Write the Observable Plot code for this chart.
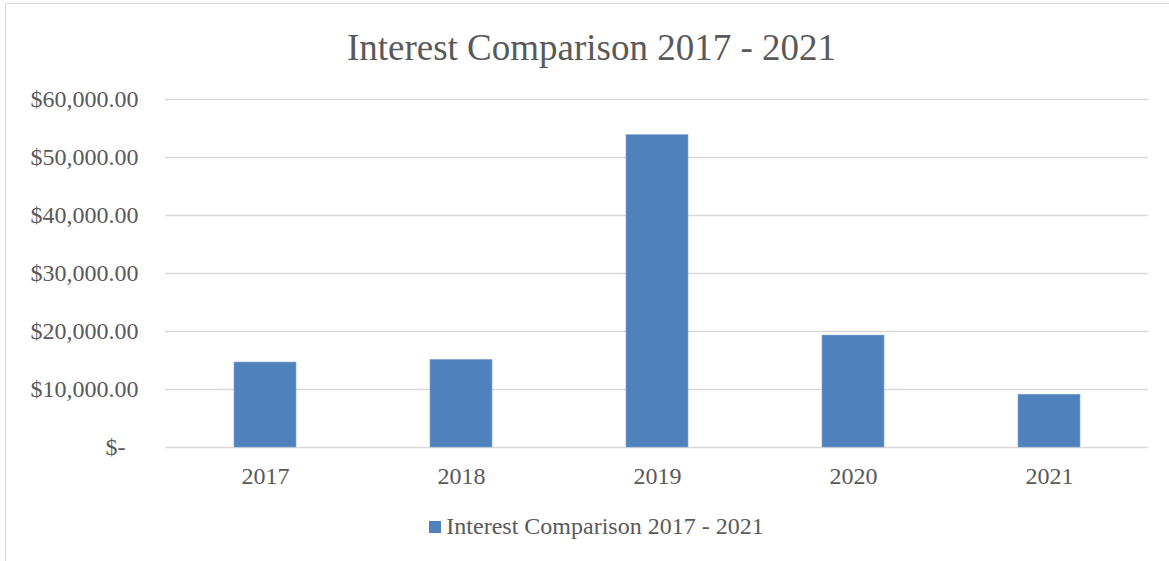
<!DOCTYPE html>
<html>
<head>
<meta charset="utf-8">
<script src="https://cdn.jsdelivr.net/npm/d3@7"></script>
<script src="https://cdn.jsdelivr.net/npm/@observablehq/plot@0.6"></script>
<style>
  html, body { margin: 0; padding: 0; background: #fff; }
  body { width: 1169px; height: 561px; position: relative; overflow: hidden; font-family: "Liberation Serif", "Times New Roman", serif; }
  #frame { position: absolute; left: 5px; top: 3px; width: 1175px; height: 580px; border: 1.5px solid #d9d9d9; box-sizing: border-box; }
  #title { position: absolute; left: 0; width: 1183px; top: 23px; text-align: center; font-size: 37px; color: #595959; line-height: 50px; }
  #chart { position: absolute; left: -2px; top: 80px; }
  #legend { position: absolute; left: 12px; width: 1169px; top: 510px; text-align: center; font-size: 24px; color: #595959; line-height: 32px; }
  #legend .sw { display: inline-block; width: 12px; height: 12px; background: #4f81bd; margin-right: 5px; vertical-align: 1px; }
</style>
</head>
<body>
<div id="frame"></div>
<div id="title">Interest Comparison 2017 - 2021</div>
<div id="chart"></div>
<div id="legend"><span class="sw"></span>Interest Comparison 2017 - 2021</div>
<script>
const years = ["2017", "2018", "2019", "2020", "2021"];
const interest = [14650, 15100, 53850, 19300, 9100];
const yTicks = [10000, 20000, 30000, 40000, 50000, 60000];

const data = years.map((y, i) => ({year: y, value: interest[i]}));
const fmt = d3.format(",.2f");

const chart = Plot.plot({
  width: 1171,
  height: 420,
  marginTop: 19,
  marginBottom: 53,
  marginLeft: 167,
  marginRight: 21,
  style: {fontFamily: '"Liberation Serif", "Times New Roman", serif', fontSize: "24px", color: "#595959", background: "transparent"},
  x: {domain: years, paddingInner: 0.685, paddingOuter: 0.3425, label: null},
  y: {domain: [0, 60000], label: null},
  marks: [
    Plot.gridY([0, ...yTicks], {stroke: "#d9d9d9", strokeOpacity: 1, strokeWidth: 1.5}),
    Plot.barY(data, {x: "year", y: "value", fill: "#4f81bd", stroke: "#7fa3d1", strokeWidth: 0.6}),
    Plot.axisY(yTicks, {tickSize: 0, tickPadding: 27, tickFormat: d => "$" + fmt(d), fill: "#595959", fontSize: 24}),
    Plot.axisY([0], {tickSize: 0, tickPadding: 40, tickFormat: () => "$-", fill: "#595959", fontSize: 24}),
    Plot.axisX({tickSize: 0, tickPadding: 19, fill: "#595959", fontSize: 24})
  ]
});
document.getElementById("chart").appendChild(chart);
</script>
</body>
</html>
